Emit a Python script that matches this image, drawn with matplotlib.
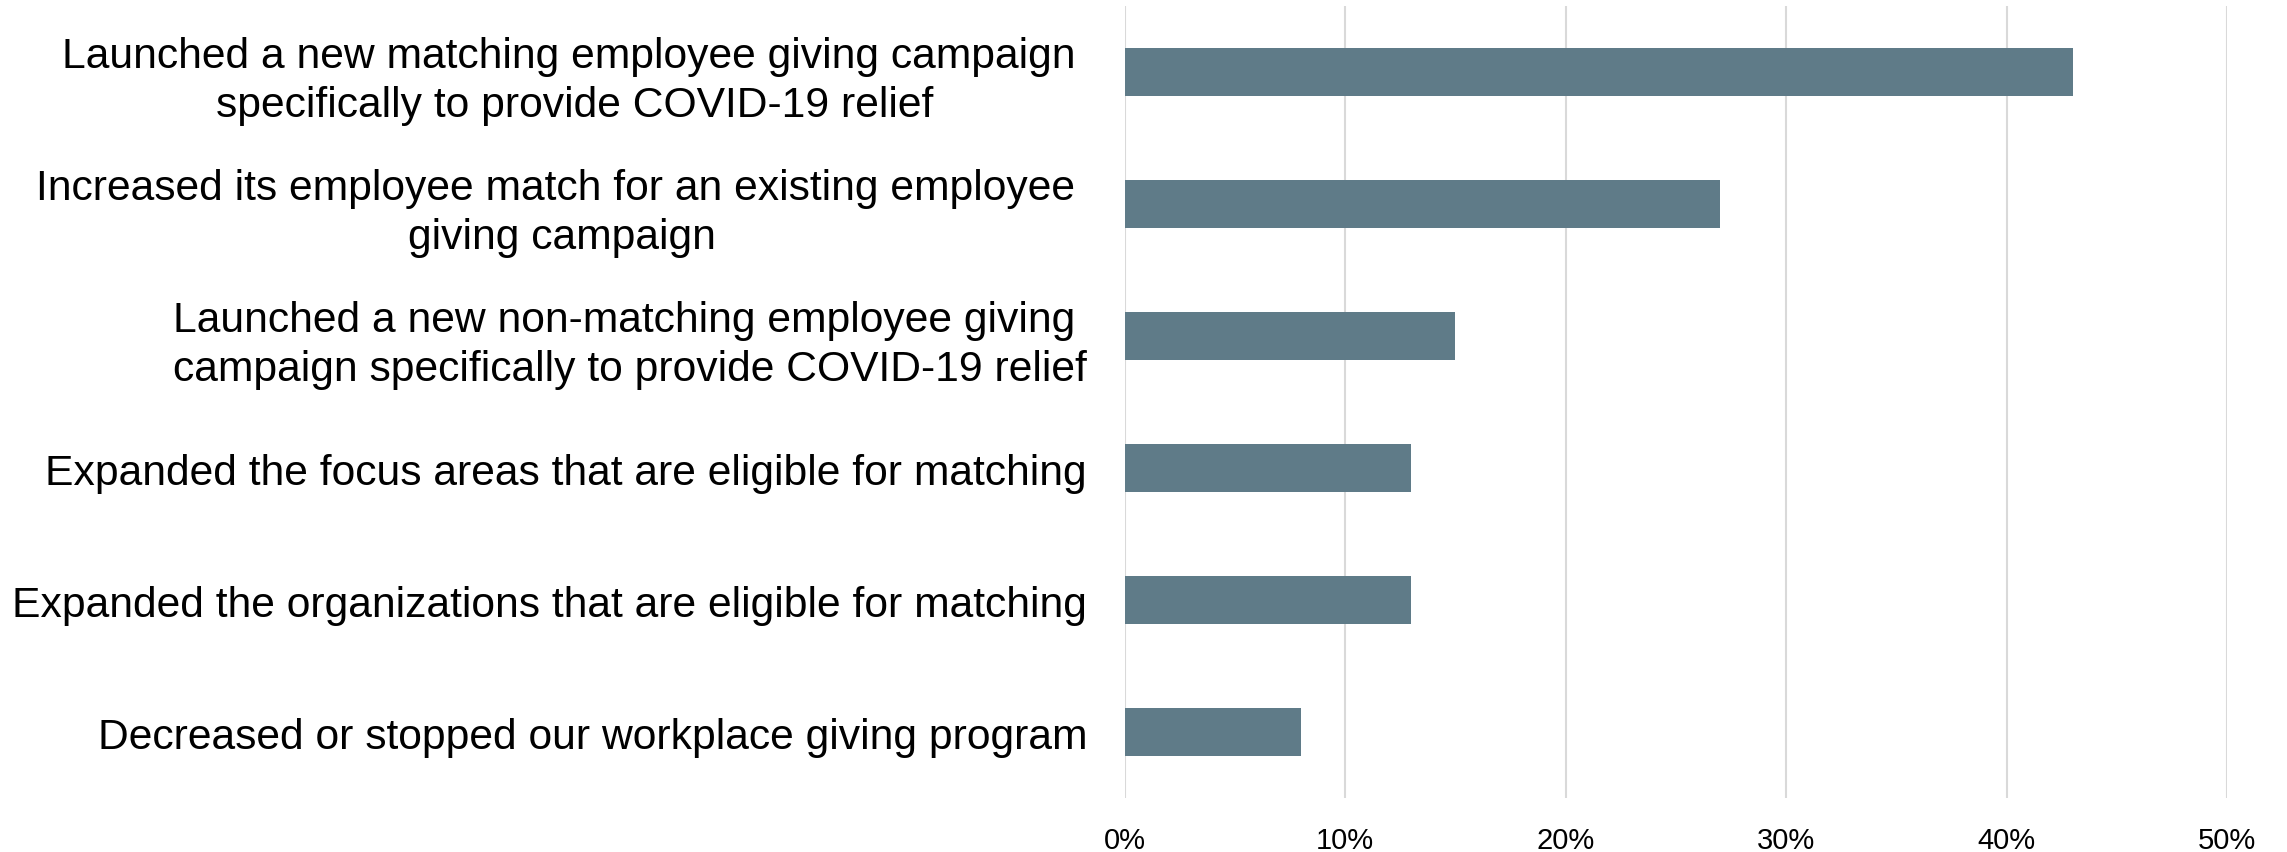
import matplotlib
matplotlib.use('Agg')
import matplotlib.pyplot as plt
from matplotlib.ticker import PercentFormatter

plt.rcParams['font.family'] = ['Liberation Sans', 'DejaVu Sans']

# survey responses, top to bottom
categories = [
    'Launched a new matching employee giving campaign \nspecifically to provide COVID-19 relief',
    'Increased its employee match for an existing employee \ngiving campaign',
    'Launched a new non-matching employee giving \ncampaign specifically to provide COVID-19 relief',
    'Expanded the focus areas that are eligible for matching',
    'Expanded the organizations that are eligible for matching',
    'Decreased or stopped our workplace giving program',
]
shares = [43, 27, 15, 13, 13, 8]
x_ticks = [0, 10, 20, 30, 40, 50]

bar_color = '#5F7B88'
grid_color = '#D9D9D9'

fig = plt.figure(figsize=(22.87, 8.53), dpi=100)
ax = fig.add_axes([0.4917, 0.0633, 0.4821, 0.9285])

pos = list(range(len(categories)))
ax.barh(pos, shares, height=0.36, color=bar_color, zorder=3)

ax.set_ylim(len(categories) - 0.5, -0.5)
ax.set_xlim(0, 50)
ax.set_xticks(x_ticks)
ax.xaxis.set_major_formatter(PercentFormatter(decimals=0))
ax.set_yticks(pos)
ax.set_yticklabels(categories, fontsize=30.7, multialignment='center',
                   linespacing=1.27)

ax.grid(axis='x', color=grid_color, linewidth=1.5, zorder=0)
for s in ax.spines.values():
    s.set_visible(False)
ax.tick_params(axis='y', length=0, pad=27)
ax.tick_params(axis='x', length=0, pad=20, labelsize=21)

fig.savefig('out.png', dpi=100, facecolor='white')
